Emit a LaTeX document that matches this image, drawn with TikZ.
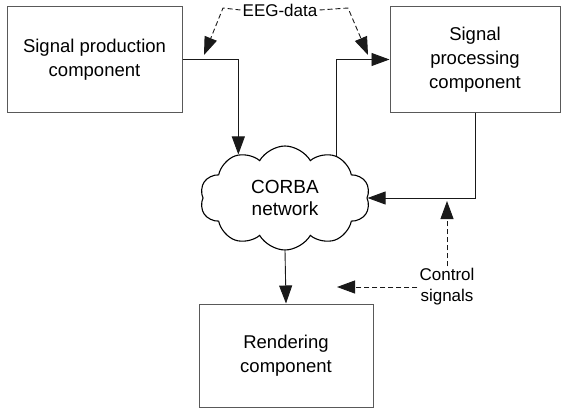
\documentclass[tikz,border=0pt]{standalone}
\usepackage{fontspec}
\setmainfont{Liberation Sans}
\usetikzlibrary{arrows.meta,shapes.symbols}
\tikzset{
  comp/.style={draw=black!65, line width=1pt, align=center, inner sep=0pt,
    font=\fontsize{18.5}{24}\selectfont},
  conn/.style={draw=black!90, line width=0.9pt, -{Triangle[length=18pt,width=13pt]}},
  ctrl/.style={conn, dash pattern=on 5pt off 3pt},
  lbl/.style={align=center, inner sep=2pt, font=\fontsize{17}{21}\selectfont}
}
\begin{document}
\begin{tikzpicture}[x=1pt, y=-1pt]
  \useasboundingbox (0,0) rectangle (561,409);
  \node[comp, minimum width=175pt, minimum height=105pt] (SP) at (94.5,59.5)
    {Signal production\\component};
  \node[comp, minimum width=170pt, minimum height=105pt] (PR) at (475,59.5)
    {Signal\\processing\\component};
  \node[comp, minimum width=174pt, minimum height=103pt] (RC) at (286,355.5)
    {Rendering\\component};
  \node[cloud, draw, line width=1.1pt, cloud puffs=10, cloud puff arc=120, aspect=1.65,
    minimum width=170pt, minimum height=104pt, align=center, inner sep=0pt,
    font=\fontsize{19}{22}\selectfont] (NW) at (285,198) {CORBA\\network};
  \node[lbl] (EEG) at (280,10) {EEG-data};
  \node[lbl] (CS) at (447,287) {Control\\signals};
  \coordinate (E1) at (223,8);
  \coordinate (E2) at (204,55);
  \coordinate (E3) at (348,8);
  \coordinate (E4) at (368,55);
  \coordinate (C1) at (447,201);
  \coordinate (C2) at (337,287);
  \draw[conn] (SP.east) -| (NW.137);
  \draw[conn] (NW.39) |- (PR.west);
  \draw[conn] (PR.south) |- (NW.east);
  \draw[conn] (NW.south) -- (RC.north);
  \draw[ctrl] (EEG.west) -- (E1) -- (E2);
  \draw[ctrl] (EEG.east) -- (E3) -- (E4);
  \draw[ctrl] (CS.north) -- (C1);
  \draw[ctrl] (CS.west) -- (C2);
\end{tikzpicture}
\end{document}
